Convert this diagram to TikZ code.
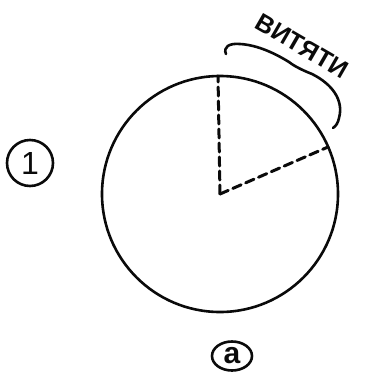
\documentclass[tikz,border=0pt]{standalone}
\usepackage{fontspec}
\setmainfont{Liberation Sans}
\usetikzlibrary{shapes.geometric, calc}
\definecolor{InkBlack}{RGB}{10, 10, 10}

\begin{document}
\begin{tikzpicture}[x=1pt, y=-1pt, line cap=round, line join=round,
    rim/.style={draw=InkBlack, line width=2.6pt},
    cutline/.style={draw=InkBlack, line width=3pt, dash pattern=on 9pt off 5pt},
    tagbox/.style={draw=InkBlack, line width=2.6pt, inner sep=0pt, text=InkBlack}]
    \useasboundingbox (0,0) rectangle (367,373);

    % The disc with its cut-out sector
    \coordinate (c) at (220,194);
    \coordinate (top) at (218,76);
    \coordinate (side) at (328,147);
    \draw[rim] (c) circle (118pt);
    \draw[cutline] (c) -- (top);
    \draw[cutline] (c) -- (side);

    % Brace over the removed arc
    \draw[rim] (226,54) .. controls (223,47) and (229,43) .. (240,44)
        .. controls (258,45) and (276,54) .. (289,62)
        .. controls (294,66) and (302,70) .. (312,74)
        .. controls (332,84) and (344,100) .. (339,118)
        .. controls (338,123) and (336,126) .. (333,128);
    \node[rotate=-30, font=\fontsize{25}{25}\selectfont\bfseries, text=InkBlack] (cutlabel)
        at (302,46) {ВИТЯТИ};

    % Side labels
    \node[tagbox, circle, minimum size=46pt, font=\fontsize{32}{32}\selectfont] (one)
        at (30,163) {1};
    \node[tagbox, ellipse, minimum width=40pt, minimum height=29pt,
          font=\fontsize{30}{30}\selectfont\bfseries] (a) at (232,356) {а};
\end{tikzpicture}
\end{document}
